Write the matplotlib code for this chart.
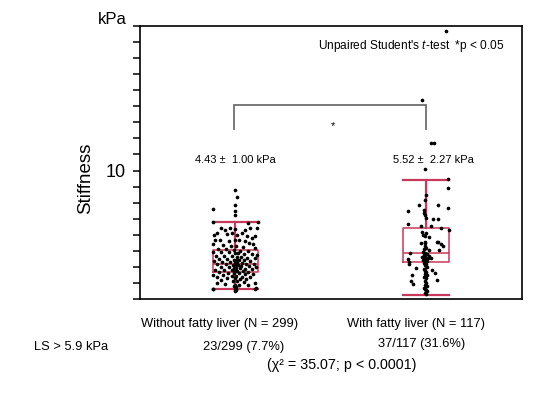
import matplotlib
matplotlib.use("Agg")
import matplotlib.pyplot as plt
from matplotlib.ticker import FixedLocator, MultipleLocator, NullFormatter

plt.rcParams['font.family'] = ['Liberation Sans', 'DejaVu Sans']
plt.rcParams['mathtext.fontset'] = 'custom'
plt.rcParams['mathtext.rm'] = 'Liberation Sans'
plt.rcParams['mathtext.it'] = 'Liberation Sans:italic'

# ---------------- data ----------------
groups = ["Without fatty liver (N = 299)", "With fatty liver (N = 117)"]
group_pos = [1, 2]
summary_labels = ["4.43 \u00b1  1.00 kPa", "5.52 \u00b1  2.27 kPa"]
ls_rates = ["23/299 (7.7%)", "37/117 (31.6%)"]

# box statistics (kPa)
whislo = [2.61, 2.24]
q1 = [3.71, 4.29]
med = [4.16, 4.84]
q3 = [5.03, 6.44]
whishi = [6.81, 9.40]

g1_values = [8.78, 8.37, 7.87, 7.58, 7.45, 7.25, 6.81, 6.81, 6.71, 6.4, 6.3, 6.4, 6.35, 6.3, 6.4, 6.4,
             6.0, 6.1, 6.05, 6.1, 6.0, 6.1, 5.9, 5.8, 5.95, 5.7, 5.7, 5.6, 5.7, 5.65, 5.6, 5.5, 5.45,
             5.4, 5.35, 5.3, 5.3, 5.25, 5.2, 5.1, 5.1, 5.05, 5.0, 5.0, 4.95, 4.9, 4.9, 4.85, 4.85, 4.8,
             4.8, 4.75, 4.7, 4.7, 4.65, 4.62, 4.6, 4.55, 4.55, 4.5, 4.5, 4.45, 4.45, 4.4, 4.4, 4.35,
             4.35, 4.3, 4.3, 4.28, 4.25, 4.22, 4.2, 4.2, 4.16, 4.15, 4.12, 4.1, 4.1, 4.05, 4.05, 4.0,
             4.0, 3.98, 3.95, 3.92, 3.9, 3.88, 3.85, 3.82, 3.8, 3.8, 3.78, 3.75, 3.72, 3.7, 3.68, 3.65,
             3.62, 3.6, 3.58, 3.55, 3.5, 3.5, 3.45, 3.45, 3.4, 3.4, 3.35, 3.3, 3.3, 3.25, 3.22, 3.2,
             3.15, 3.1, 3.05, 3.0, 3.0, 2.95, 2.9, 2.9, 2.85, 2.8, 2.75, 2.7, 2.65, 2.6, 2.55, 2.5,
             2.61, 2.61]
g1_jitter = [0, 2, 0, -22, 0, 0, -22, 23, 13, -14, -10, -5, 0, 10, 15, 22,
             -21, -18, -8, -3, 2, 7, 12, 17, 20, -20, -15, -6, 0, 4, 10, 14, 18,
             -22, -12, -4, 1, 8, 20, -17, -9, -1, 5, 13, -22, -14, -6, 0, 3, 9,
             17, 22, -19, -11, -3, 2, 6, 12, 20, -16, -8, -1, 1, 4, 9, 15,
             -21, -13, -5, 0, 2, 7, 11, 19, -18, -9, -2, 0, 3, 6, 14, 21,
             -14, -6, -1, 1, 5, 10, 17, -20, -11, -3, 0, 2, 8, 13, -16, -7,
             -1, 4, 10, 18, -22, -12, -3, 1, 7, 15, -18, -8, 0, 5, 11, -14,
             -2, 2, 9, 20, -18, -10, 0, 4, 13, -1, 1, 21, -22, 0, 1, 0,
             -22, 20]

g2_values = [18.7, 14.4, 11.7, 11.7, 10.1, 9.5, 8.94, 8.47, 8.16, 7.85, 7.85, 7.66, 7.5, 7.53,
             7.37, 7.2, 7.04, 6.96, 6.96, 6.67, 6.54, 6.54, 6.44, 6.29, 6.2, 6.09, 6.0, 5.9, 5.85,
             5.57, 5.57, 5.48, 5.5, 5.52, 5.45, 5.32, 5.32, 5.2, 5.1, 5.03, 5.03, 4.95, 4.84, 4.84,
             4.8, 4.75, 4.7, 4.64, 4.6, 4.58, 4.53, 4.5, 4.48, 4.45, 4.4, 4.35, 4.3, 4.25, 4.2,
             4.15, 4.1, 4.0, 3.91, 3.85, 3.79, 3.75, 3.7, 3.6, 3.55, 3.5, 3.5, 3.4, 3.3, 3.2, 3.12,
             3.1, 3.0, 2.95, 2.9, 2.8, 2.7, 2.63, 2.55, 2.47, 2.35, 2.3]
g2_jitter = [20, -4, 5, 8, -1, 22, 22, 0, -1, -7, 12, 22, -18, -2,
             -2, -1, 0, 7, 12, -18, -5, 5, 15, 23, -4, 0, -3, -1, 3,
             12, -1, -5, -1, 11, 15, 17, -1, 0, -2, 13, 3, -3, -16, -1,
             1, -2, 3, -4, -1, 2, 5, -18, -1, 0, -3, 1, -17, -2, -17,
             0, -1, 1, -10, -2, 6, -1, 0, 9, -1, -14, 1, -2, 0, 11, -15,
             -1, 0, -13, -1, 1, -2, -1, 0, 1, -1, 0]

# ---------------- figure ----------------
W, H = 557, 399
fig = plt.figure(figsize=(W / 100, H / 100), dpi=100)
ax = fig.add_axes([140 / W, 1 - 299 / H, (521.7 - 140) / W, (299 - 26) / H])

px_per_unit_x = (521.7 - 140) / 2.0
box_col = '#c8385a'

stats = []
for i in range(2):
    stats.append(dict(whislo=whislo[i], q1=q1[i], med=med[i], q3=q3[i], whishi=whishi[i],
                      fliers=[]))
ax.bxp(stats, positions=group_pos, widths=0.24, showfliers=False,
       boxprops=dict(color=box_col, linewidth=1.1),
       medianprops=dict(color=box_col, linewidth=1.1),
       whiskerprops=dict(color=box_col, linewidth=1.6),
       capprops=dict(color=box_col, linewidth=1.6),
       capwidths=0.24, zorder=2)

for pos, vals, jit in [(group_pos[0], g1_values, g1_jitter), (group_pos[1], g2_values, g2_jitter)]:
    xs = [pos + j / px_per_unit_x for j in jit]
    ax.scatter(xs, vals, s=7, color='black', zorder=3, linewidths=0)

ax.set_xlim(0.5, 2.5)
ax.set_ylim(2, 19)
ax.set_xticks([])
ax.yaxis.set_major_locator(FixedLocator([10]))
ax.yaxis.set_minor_locator(MultipleLocator(1))
ax.yaxis.set_minor_formatter(NullFormatter())
ax.tick_params(axis='y', which='both', direction='out', length=5, width=1.1, labelsize=13, pad=5)
for s in ax.spines.values():
    s.set_linewidth(1.2)
    s.set_color('black')
ax.set_ylabel("Stiffness", fontsize=13.5)
ax.yaxis.set_label_coords(-46 / (521.7 - 140), (299 - 178) / (299 - 26))
fig.text(127 / W, 1 - 20 / H, "kPa", fontsize=12, ha='right', va='center')

# significance bracket
br_col = '#6e6e6e'
ax.plot([0.99, 0.99, 2.0, 2.0], [12.6, 14.08, 14.08, 12.6], color=br_col, lw=1.3,
        zorder=1, solid_joinstyle='miter')
ax.text(1.51, 12.75, "*", fontsize=8, ha='center', va='center')

for pos, lab in zip(group_pos, summary_labels):
    ax.text(pos + (0.0 if pos == 1 else 0.04), 10.68, lab, fontsize=8, ha='center', va='center')

ax.text(2.41, 17.75, "Unpaired Student's $\\it{t}$-test  *p < 0.05", fontsize=8.6,
        ha='right', va='center')

# texts below the axes
fig.text(220 / W, 1 - 324 / H, groups[0], fontsize=9.3, ha='center', va='center')
fig.text(416 / W, 1 - 324 / H, groups[1], fontsize=9.3, ha='center', va='center')
fig.text(34 / W, 1 - 347 / H, "LS > 5.9 kPa", fontsize=9.3, ha='left', va='center')
fig.text(244 / W, 1 - 347 / H, ls_rates[0], fontsize=9.3, ha='center', va='center')
fig.text(421.7 / W, 1 - 344 / H, ls_rates[1], fontsize=9.3, ha='center', va='center')
fig.text(342 / W, 1 - 365 / H, "(\u03c7\u00b2 = 35.07; p < 0.0001)", fontsize=10.3,
         ha='center', va='center')

fig.savefig("out.png", dpi=100, facecolor='white')
